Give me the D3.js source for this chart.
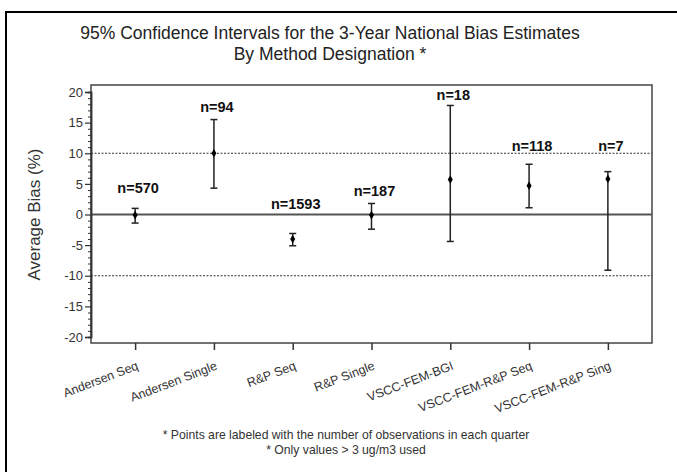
<!DOCTYPE html>
<html><head><meta charset="utf-8">
<script src="https://cdn.jsdelivr.net/npm/d3@7"></script>
<style>
html,body{margin:0;padding:0;background:#fff;}
svg{display:block;font-family:"Liberation Sans",Arial,sans-serif;}
</style></head>
<body><svg id="chart" width="677" height="472"></svg>
<script>
const categories = ["Andersen Seq","Andersen Single","R&P Seq","R&P Single","VSCC-FEM-BGI","VSCC-FEM-R&P Seq","VSCC-FEM-R&P Sing"];
const means  = [-0.1, 10.0, -4.0, -0.1, 5.7, 4.7, 5.8];
const upper  = [1.0, 15.5, -3.1, 1.8, 17.8, 8.2, 7.0];
const lower  = [-1.4, 4.3, -5.1, -2.4, -4.4, 1.1, -9.1];
const counts = [570, 94, 1593, 187, 18, 118, 7];
const labelY = [4.3, 17.5, 1.7, 3.8, 19.5, 11.2, 11.2];
const yTicks = [20, 15, 10, 5, 0, -5, -10, -15, -20];
const refLines = [10, -10];
const titleLines = ["95% Confidence Intervals for the 3-Year National Bias Estimates", "By Method Designation *"];
const footnotes = ["* Points are labeled with the number of observations in each quarter", "* Only values > 3 ug/m3 used"];

const svg = d3.select("#chart");
// outer frame (cropped at right/bottom)
svg.append("path").attr("d","M6,480 L6,12 L690,12").attr("fill","none").attr("stroke","#000").attr("stroke-width",2);

const L = 91, R = 652, T = 85, B = 343;
const x = d3.scalePoint().domain(categories).range([L, R]).padding(0.56);
const y = d3.scaleLinear().domain([-20, 20]).range([337, 92]);

// title
svg.append("g").selectAll("text").data(titleLines).join("text")
  .attr("x", 330).attr("y", (d,i) => 39 + i*21)
  .attr("text-anchor","middle").attr("font-size", 17.5).attr("fill","#222").text(d => d);

// plot frame
svg.append("rect").attr("x", L).attr("y", T).attr("width", R-L).attr("height", B-T)
  .attr("fill","none").attr("stroke","#444").attr("stroke-width",1.5);

// reference lines
svg.append("g").selectAll("line").data(refLines).join("line")
  .attr("x1", L).attr("x2", R).attr("y1", d => y(d)).attr("y2", d => y(d))
  .attr("stroke","#333").attr("stroke-width",1.2).attr("stroke-dasharray","2,1.5");
svg.append("line").attr("x1", L).attr("x2", R).attr("y1", y(0)).attr("y2", y(0))
  .attr("stroke","#555").attr("stroke-width",1.8);

// y axis
const yMinor = d3.range(-20, 21, 1).filter(v => v % 5 !== 0);
const gy = svg.append("g").attr("transform",`translate(${L},0)`);
gy.call(d3.axisLeft(y).tickValues(yMinor).tickSize(3).tickFormat(""));
gy.call(g => g.selectAll(".tick line").attr("stroke","#333"));
const gy2 = svg.append("g").attr("transform",`translate(${L},0)`);
gy2.call(d3.axisLeft(y).tickValues(yTicks).tickSize(6).tickPadding(2).tickFormat(d => String(d)));
gy2.selectAll("text").attr("font-size", 13).attr("fill","#333").attr("font-family","Liberation Sans, Arial, sans-serif");
svg.selectAll(".domain").attr("stroke","#333").attr("stroke-width",1.5);
gy2.selectAll(".tick line").attr("stroke","#333").attr("stroke-width",1.2);

svg.append("text").attr("transform",`translate(40,${y(0)}) rotate(-90)`)
  .attr("text-anchor","middle").attr("font-size",17).attr("fill","#333").text("Average Bias (%)");

// x axis
const gx = svg.append("g").attr("transform",`translate(0,${B})`);
gx.call(d3.axisBottom(x).tickSize(7).tickFormat(""));
gx.select(".domain").remove();
gx.selectAll(".tick line").attr("stroke","#333").attr("stroke-width",1.5);
svg.append("g").selectAll("text").data(categories).join("text")
  .attr("transform", d => `translate(${x(d)+4},${B+26}) rotate(-21)`)
  .attr("text-anchor","end").attr("font-size",12.5).attr("fill","#333").text(d => d);

// error bars
const data = categories.map((c,i) => ({c, m: means[i], u: upper[i], l: lower[i], n: counts[i], ly: labelY[i]}));
const eb = svg.append("g").selectAll("g").data(data).join("g");
eb.append("line").attr("x1", d => x(d.c)).attr("x2", d => x(d.c)).attr("y1", d => y(d.u)).attr("y2", d => y(d.l))
  .attr("stroke","#222").attr("stroke-width",1.5);
eb.append("line").attr("x1", d => x(d.c)-3.5).attr("x2", d => x(d.c)+3.5).attr("y1", d => y(d.u)).attr("y2", d => y(d.u))
  .attr("stroke","#222").attr("stroke-width",1.5);
eb.append("line").attr("x1", d => x(d.c)-3.5).attr("x2", d => x(d.c)+3.5).attr("y1", d => y(d.l)).attr("y2", d => y(d.l))
  .attr("stroke","#222").attr("stroke-width",1.5);
eb.append("path").attr("transform", d => `translate(${x(d.c)},${y(d.m)})`)
  .attr("d", d3.symbol(d3.symbolDiamond, 22)).attr("fill","#000");
eb.append("text").attr("x", d => x(d.c)+3).attr("y", d => y(d.ly)).attr("dy","0.35em")
  .attr("text-anchor","middle").attr("font-size",14.5).attr("font-weight","bold").attr("fill","#111")
  .text(d => "n=" + d.n);

// footnotes
svg.append("g").selectAll("text").data(footnotes).join("text")
  .attr("x", 346).attr("y", (d,i) => 439 + i*15)
  .attr("text-anchor","middle").attr("font-size",12.2).attr("fill","#333").text(d => d);
</script></body></html>
